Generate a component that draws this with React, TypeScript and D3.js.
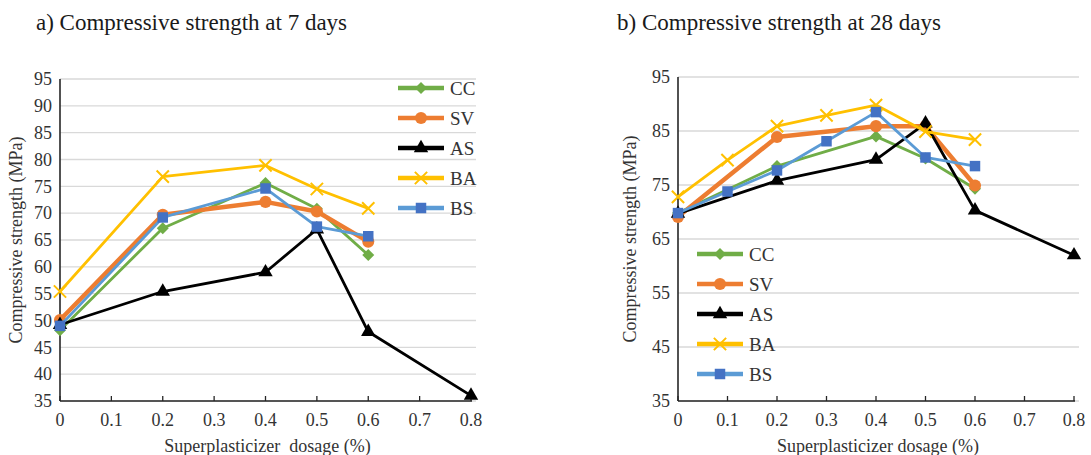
import * as React from "react";
import * as d3 from "d3";

// dosage categories (%)
const xTicks = [0, 0.1, 0.2, 0.3, 0.4, 0.5, 0.6, 0.7, 0.8];
const yTicksA = [35, 40, 45, 50, 55, 60, 65, 70, 75, 80, 85, 90, 95];
const yTicksB = [35, 45, 55, 65, 75, 85, 95];

// a) 7 days
const a_CC = [[0, 48.2], [0.2, 67.2], [0.4, 75.6], [0.5, 70.8], [0.6, 62.2]];
const a_SV = [[0, 50.1], [0.2, 69.7], [0.4, 72.1], [0.5, 70.3], [0.6, 64.7]];
const a_AS = [[0, 49.2], [0.2, 55.4], [0.4, 59.0], [0.5, 67.0], [0.6, 47.9], [0.8, 36.0]];
const a_BA = [[0, 55.4], [0.2, 76.8], [0.4, 78.9], [0.5, 74.5], [0.6, 70.9]];
const a_BS = [[0, 49.0], [0.2, 69.2], [0.4, 74.6], [0.5, 67.5], [0.6, 65.7]];

// b) 28 days
const b_CC = [[0, 69.8], [0.2, 78.5], [0.4, 84.0], [0.5, 79.9], [0.6, 74.3]];
const b_SV = [[0, 69.1], [0.2, 83.9], [0.4, 85.9], [0.5, 85.9], [0.6, 74.9]];
const b_AS = [[0, 69.7], [0.2, 75.8], [0.4, 79.7], [0.5, 86.4], [0.6, 70.3], [0.8, 62.0]];
const b_BA = [[0, 72.8], [0.1, 79.6], [0.2, 85.9], [0.3, 87.9], [0.4, 89.8], [0.5, 84.9], [0.6, 83.4]];
const b_BS = [[0, 69.8], [0.1, 73.8], [0.2, 77.7], [0.3, 83.1], [0.4, 88.5], [0.5, 80.1], [0.6, 78.5]];

const seriesNames = ["CC", "SV", "AS", "BA", "BS"];

type Style = {
  line: string;
  fill: string;
  width: number;
  symbol: d3.SymbolType;
  size: number;
  rotate: number;
  stroke: boolean;
};

const styles: Record<string, Style> = {
  CC: { line: "#70ad47", fill: "#70ad47", width: 2.8, symbol: d3.symbolSquare, size: 72, rotate: 45, stroke: false },
  SV: { line: "#ed7d31", fill: "#ed7d31", width: 4.5, symbol: d3.symbolCircle, size: 115, rotate: 0, stroke: false },
  AS: { line: "#000000", fill: "#000000", width: 2.8, symbol: d3.symbolTriangle, size: 90, rotate: 0, stroke: false },
  BA: { line: "#ffc000", fill: "none", width: 2.8, symbol: d3.symbolTimes, size: 100, rotate: 0, stroke: true },
  BS: { line: "#5b9bd5", fill: "#4472c4", width: 2.8, symbol: d3.symbolSquare, size: 110, rotate: 0, stroke: false },
};

const FONT = "'Liberation Serif', 'Times New Roman', serif";

function Marker({ name, x, y }: { name: string; x: number; y: number }) {
  const s = styles[name];
  const d = d3.symbol().type(s.symbol).size(s.size)()!;
  return (
    <path
      d={d}
      transform={`translate(${x},${y}) rotate(${s.rotate})`}
      fill={s.stroke ? "none" : s.fill}
      stroke={s.stroke ? s.line : "none"}
      strokeWidth={s.stroke ? 2 : 0}
    />
  );
}

type PanelProps = {
  title: string;
  titleX: number;
  x0: number;
  x1: number;
  yTop: number;
  yBottom: number;
  yTicks: number[];
  data: Record<string, number[][]>;
  legend: { x: number; y: number };
  xTitle: string;
  yTitleX: number;
};

function Panel(p: PanelProps) {
  const x = d3.scaleLinear().domain([0, 0.8]).range([p.x0, p.x1]);
  const y = d3.scaleLinear().domain([35, 95]).range([p.yBottom, p.yTop]);
  const line = d3
    .line<number[]>()
    .x((d) => x(d[0]))
    .y((d) => y(d[1]));

  return (
    <g fontFamily={FONT}>
      <text x={p.titleX} y={30} fontSize={23} fill="#1a1a1a">
        {p.title}
      </text>

      {/* gridlines */}
      {p.yTicks.map((t) => (
        <line key={t} x1={p.x0} x2={p.x1 + 5} y1={y(t)} y2={y(t)} stroke="#d9d9d9" strokeWidth={1.3} />
      ))}

      {/* axes */}
      <line x1={p.x0} x2={p.x0} y1={y(95)} y2={y(35)} stroke="#262626" strokeWidth={1.6} />
      <line x1={p.x0} x2={p.x1 + 1} y1={y(35)} y2={y(35)} stroke="#262626" strokeWidth={1.6} />
      {xTicks.map((t) => (
        <line key={t} x1={x(t)} x2={x(t)} y1={y(35)} y2={y(35) - 5} stroke="#262626" strokeWidth={1.3} />
      ))}

      {p.yTicks.map((t) => (
        <text key={t} x={p.x0 - 8} y={y(t)} dy="0.35em" textAnchor="end" fontSize={18} fill="#333">
          {t}
        </text>
      ))}
      {xTicks.map((t) => (
        <text key={t} x={x(t)} y={426} textAnchor="middle" fontSize={18} fill="#333">
          {t}
        </text>
      ))}

      <text x={(p.x0 + p.x1) / 2 + 2} y={452} textAnchor="middle" fontSize={18} fill="#333" style={{ whiteSpace: "pre" }}>
        {p.xTitle}
      </text>
      <text
        transform={`translate(${p.yTitleX},${(p.yTop + p.yBottom) / 2}) rotate(-90)`}
        textAnchor="middle"
        fontSize={18}
        fill="#333"
      >
        Compressive strength (MPa)
      </text>

      {/* series */}
      {seriesNames.map((n) => (
        <g key={n}>
          <path d={line(p.data[n])!} fill="none" stroke={styles[n].line} strokeWidth={styles[n].width} strokeLinejoin="round" />
          {p.data[n].map((d, i) => (
            <Marker key={i} name={n} x={x(d[0])} y={y(d[1])} />
          ))}
        </g>
      ))}

      {/* legend */}
      {seriesNames.map((n, i) => {
        const ly = p.legend.y + i * 30;
        return (
          <g key={n}>
            <line x1={p.legend.x} x2={p.legend.x + 46} y1={ly} y2={ly} stroke={styles[n].line} strokeWidth={4.5} />
            <Marker name={n} x={p.legend.x + 23} y={ly} />
            <text x={p.legend.x + 52} y={ly} dy="0.35em" fontSize={19} fill="#333">
              {n}
            </text>
          </g>
        );
      })}
    </g>
  );
}

export default function App() {
  return (
    <svg width={1091} height={455} style={{ position: "absolute", left: 0, top: 0, background: "#fff" }}>
      <Panel
        title="a) Compressive strength at 7 days"
        titleX={36}
        x0={60}
        x1={471}
        yTop={79}
        yBottom={401}
        yTicks={yTicksA}
        data={{ CC: a_CC, SV: a_SV, AS: a_AS, BA: a_BA, BS: a_BS }}
        legend={{ x: 398, y: 88 }}
        xTitle="Superplasticizer  dosage (%)"
        yTitleX={22}
      />
      <Panel
        title="b) Compressive strength at 28 days"
        titleX={617}
        x0={678}
        x1={1074}
        yTop={77}
        yBottom={401}
        yTicks={yTicksB}
        data={{ CC: b_CC, SV: b_SV, AS: b_AS, BA: b_BA, BS: b_BS }}
        legend={{ x: 697, y: 254 }}
        xTitle="Superplasticizer dosage (%)"
        yTitleX={636}
      />
    </svg>
  );
}
